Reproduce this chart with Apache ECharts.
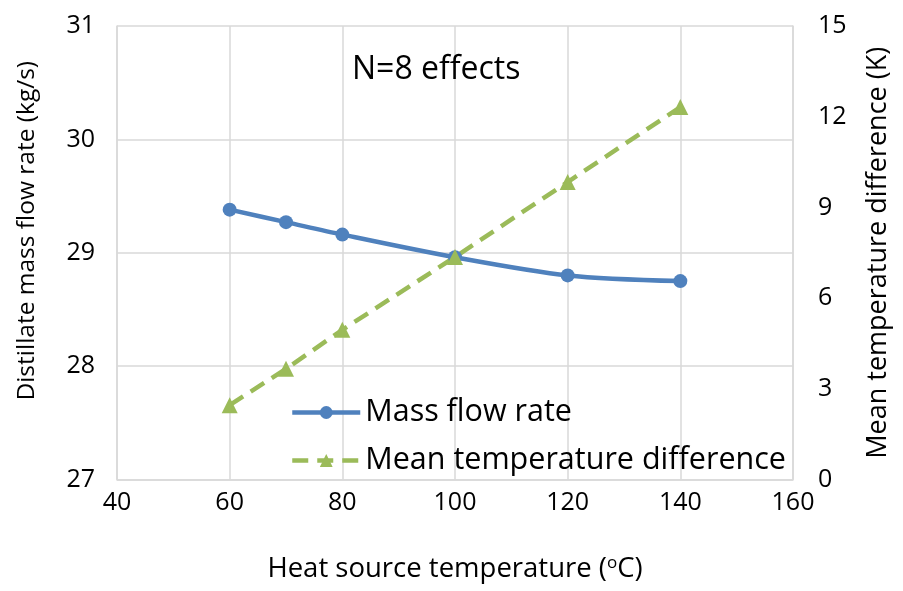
<!DOCTYPE html>
<html><head><meta charset="utf-8">
<script src="https://cdn.jsdelivr.net/npm/echarts@6/dist/echarts.min.js"></script>
<style>html,body{margin:0;padding:0;background:#fff}#c{width:903px;height:591px}</style>
</head><body><div id="c"></div>
<script>
const temps = [60, 70, 80, 100, 120, 140];
const massFlow = [29.38, 29.27, 29.16, 28.96, 28.80, 28.75];
const meanDT = [2.46, 3.66, 4.95, 7.36, 9.84, 12.32];
const seriesNames = ['Mass flow rate', 'Mean temperature difference'];
const annotation = 'N=8 effects';

const FONT = 'Open Sans';
const chart = echarts.init(document.getElementById('c'), null, {renderer: 'canvas'});
const gridColor = '#d9d9d9';
chart.setOption({
  animation: false,
  backgroundColor: '#fff',
  textStyle: {fontFamily: FONT, color: '#000'},
  title: {text: annotation, left: 352, top: 54, padding: 0, textStyle: {fontFamily: FONT, fontSize: 32, fontWeight: 'normal', color: '#000'}},
  grid: {left: 117, right: 110, top: 26, bottom: 111.5},
  legend: {
    orient: 'vertical', left: 290, top: 397, itemWidth: 68, itemHeight: 16, itemGap: 17, padding: 0,
    lineStyle: {width: 4.5},
    textStyle: {fontFamily: FONT, fontSize: 30.5, color: '#000'},
    data: seriesNames
  },
  xAxis: {
    type: 'value', min: 40, max: 160, interval: 20,
    name: '{a|Heat source temperature (}{s|o}{a|C)}', nameLocation: 'middle', nameGap: 75,
    nameTextStyle: {rich: {a: {fontFamily: FONT, fontSize: 27.5, color: '#000'}, s: {fontFamily: FONT, fontSize: 17, color: '#000', verticalAlign: 'top', padding: [0,0,12,0]}}},
    axisLine: {show: true, lineStyle: {color: gridColor, width: 1.5}},
    axisTick: {show: false},
    axisLabel: {fontFamily: FONT, fontSize: 25, color: '#000', margin: 11},
    splitLine: {show: true, lineStyle: {color: gridColor, width: 1.5}}
  },
  yAxis: [{
    type: 'value', min: 27, max: 31, interval: 1,
    name: 'Distillate mass flow rate (kg/s)', nameLocation: 'middle', nameGap: 77,
    nameTextStyle: {fontFamily: FONT, fontSize: 24.5, color: '#000', padding: [0, 0, 0, 44]},
    axisLine: {show: true, lineStyle: {color: gridColor, width: 1.5}},
    axisTick: {show: false},
    axisLabel: {fontFamily: FONT, fontSize: 25, color: '#000', margin: 22},
    splitLine: {show: true, lineStyle: {color: gridColor, width: 1.5}}
  }, {
    type: 'value', min: 0, max: 15, interval: 3, position: 'right',
    name: 'Mean temperature difference (K)', nameLocation: 'middle', nameGap: 72, nameRotate: 90,
    nameTextStyle: {fontFamily: FONT, fontSize: 27, color: '#000'},
    axisLine: {show: true, lineStyle: {color: gridColor, width: 1.5}},
    axisTick: {show: false},
    axisLabel: {fontFamily: FONT, fontSize: 25, color: '#000', margin: 25},
    splitLine: {show: false}
  }],
  series: [{
    name: seriesNames[0], type: 'line', yAxisIndex: 0, smooth: 0.3,
    data: temps.map((t, i) => [t, massFlow[i]]),
    symbol: 'circle', symbolSize: 14,
    lineStyle: {color: '#4F81BD', width: 4.5},
    itemStyle: {color: '#4F81BD'}
  }, {
    name: seriesNames[1], type: 'line', yAxisIndex: 1,
    data: temps.map((t, i) => [t, meanDT[i]]),
    symbol: 'triangle', symbolSize: 16,
    lineStyle: {color: '#9BBB59', width: 4.5, type: [16, 9]},
    itemStyle: {color: '#9BBB59'}
  }]
});
</script></body></html>
